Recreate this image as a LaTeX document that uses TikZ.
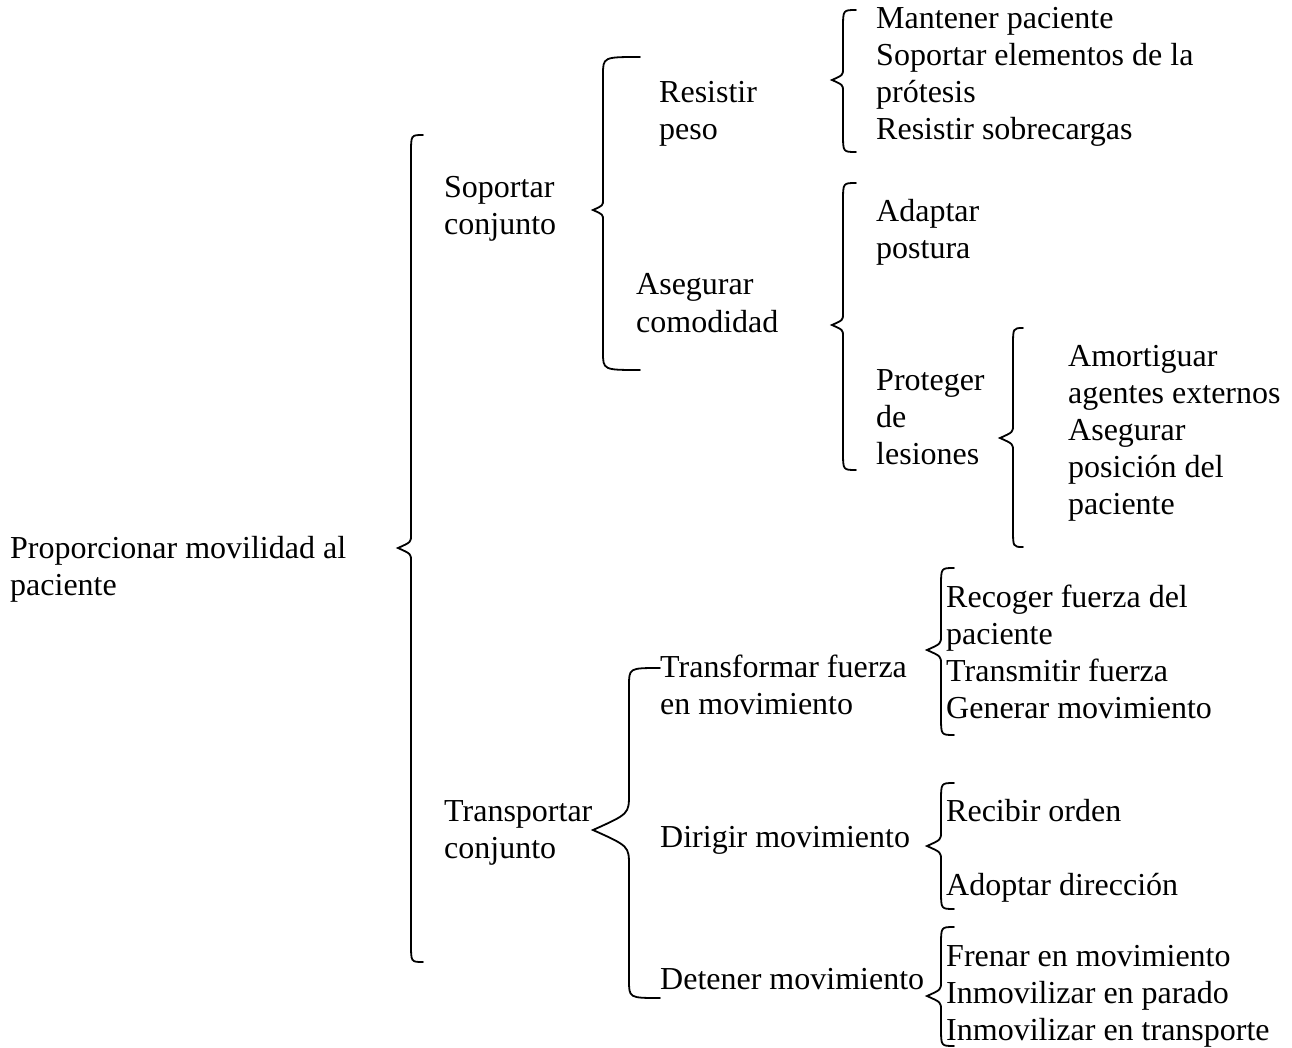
\documentclass[tikz,border=0pt]{standalone}
\usepackage{fontspec}
\setmainfont{Liberation Serif}
\usetikzlibrary{calc}

\newcommand{\llave}[2]{%
  \draw[llave] let \p1=(#1-top), \p2=(#1-tip), \p3=(#1-bot) in
    (\p1) .. controls (\x2+#2,\y1) .. (\x2+#2,\y1-18pt)
    -- (\x2+#2,\y2+#2) .. controls (\x2+#2,\y2+0.45*#2) .. (\p2)
    .. controls (\x2+#2,\y2-0.45*#2) .. (\x2+#2,\y2-#2)
    -- (\x2+#2,\y3+18pt) .. controls (\x2+#2,\y3) .. (\p3);
}

\begin{document}
\begin{tikzpicture}[
    x=1pt, y=-1pt,
    item/.style={anchor=base west, inner sep=0pt, align=left, font=\fontsize{32}{37}\selectfont},
    llave/.style={line width=1.8pt, line cap=round}
]
\useasboundingbox (0,0) rectangle (1292,1048);

\node[item] (prop) at (10,595) {Proporcionar movilidad al\\paciente};

\node[item] (soportar) at (444,235) {Soportar\\conjunto};
\node[item] (transportar) at (444,858) {Transportar\\conjunto};

\node[item] (resistir) at (659,140) {Resistir\\peso};
\node[item] (asegurar) at (636,332) {Asegurar\\comodidad};
\node[item] (transformar) at (660,714) {Transformar fuerza\\en movimiento};
\node[item] (dirigir) at (660,847) {Dirigir movimiento};
\node[item] (detener) at (660,989) {Detener movimiento};

\node[item] (mantener) at (876,140) {Mantener paciente\\Soportar elementos de la\\prótesis\\Resistir sobrecargas};
\node[item] (adaptar) at (876,259) {Adaptar\\postura};
\node[item] (proteger) at (876,464) {Proteger\\de\\lesiones};
\node[item] (amortiguar) at (1068,514) {Amortiguar\\agentes externos\\Asegurar\\posición del\\paciente};

\node[item] (recoger) at (946,718) {Recoger fuerza del\\paciente\\Transmitir fuerza\\Generar movimiento};
\node[item] (recibir) at (946,821) {Recibir orden};
\node[item] (adoptar) at (946,895) {Adoptar dirección};
\node[item] (frenar) at (946,1040) {Frenar en movimiento\\Inmovilizar en parado\\Inmovilizar en transporte};

\coordinate (prop-top) at (423,135);
\coordinate (prop-tip) at (398,548);
\coordinate (prop-bot) at (423,962);
\llave{prop}{13pt}

\coordinate (soportar-top) at (640,57);
\coordinate (soportar-tip) at (593,210);
\coordinate (soportar-bot) at (640,370);
\llave{soportar}{10pt}

\coordinate (transportar-top) at (660,668);
\coordinate (transportar-tip) at (593,830);
\coordinate (transportar-bot) at (660,998);
\llave{transportar}{36pt}

\coordinate (resistir-top) at (856,10);
\coordinate (resistir-tip) at (832,80);
\coordinate (resistir-bot) at (856,152);
\llave{resistir}{11pt}

\coordinate (asegurar-top) at (856,183);
\coordinate (asegurar-tip) at (832,325);
\coordinate (asegurar-bot) at (856,470);
\llave{asegurar}{11pt}

\coordinate (proteger-top) at (1023,328);
\coordinate (proteger-tip) at (1000,438);
\coordinate (proteger-bot) at (1023,547);
\llave{proteger}{13pt}

\coordinate (transformar-top) at (954,568);
\coordinate (transformar-tip) at (927,650);
\coordinate (transformar-bot) at (954,735);
\llave{transformar}{14pt}

\coordinate (dirigir-top) at (954,783);
\coordinate (dirigir-tip) at (927,846);
\coordinate (dirigir-bot) at (954,909);
\llave{dirigir}{14pt}

\coordinate (detener-top) at (954,927);
\coordinate (detener-tip) at (927,996);
\coordinate (detener-bot) at (954,1046);
\llave{detener}{14pt}

\end{tikzpicture}
\end{document}
